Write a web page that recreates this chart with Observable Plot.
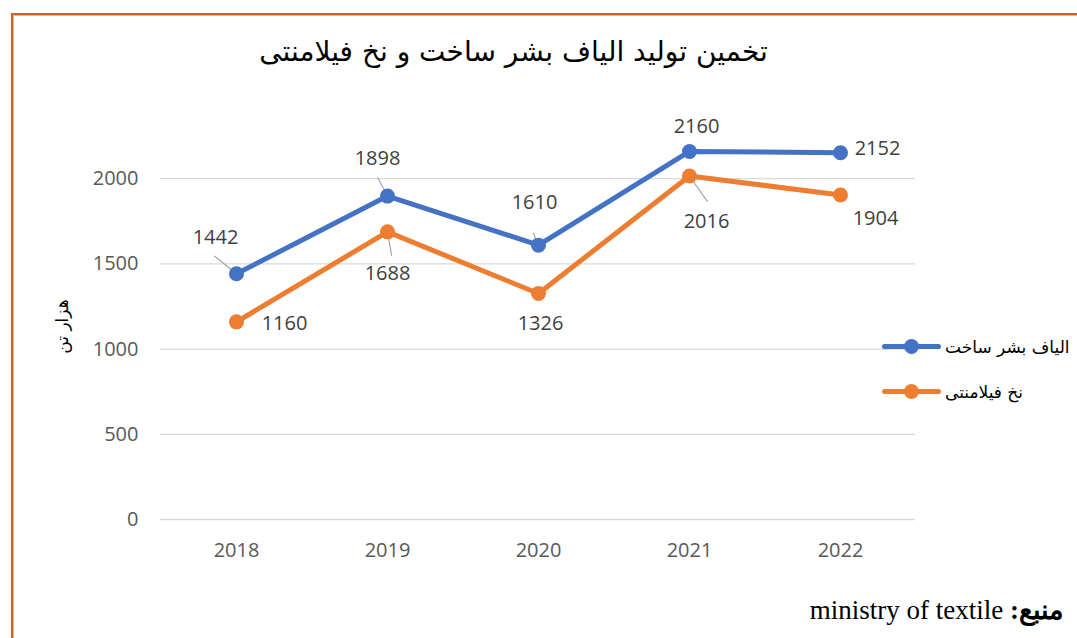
<!DOCTYPE html>
<html>
<head>
<meta charset="utf-8">
<script src="https://cdn.jsdelivr.net/npm/d3@7"></script>
<script src="https://cdn.jsdelivr.net/npm/@observablehq/plot@0.6"></script>
<style>
  html, body { margin: 0; padding: 0; background: #fff; }
  #root { position: relative; width: 1077px; height: 638px; overflow: hidden; background: #fff; }
  #frame { position: absolute; left: 11px; top: 13px; width: 1200px; height: 800px;
           border-left: 2px solid #C5652B; border-top: 2px solid #C5652B;
           box-shadow: inset 1px 1px 0 #F0B48C; }
  #title { position: absolute; left: 0; width: 1027px; top: 35px; text-align: center;
           font-family: "DejaVu Sans", sans-serif; font-size: 28px; color: #000; direction: rtl; }
  #chart { position: absolute; left: 0; top: 88px; }
  #legend { position: absolute; left: 882px; top: 334px; font-family: "DejaVu Sans", sans-serif;
            font-size: 17px; color: #000; }
  .item { position: relative; height: 26px; margin-bottom: 19px; }
  .swatch { position: absolute; left: 0; top: 10px; width: 59px; height: 5px; border-radius: 3px; }
  .swatch i { position: absolute; left: 22px; top: -5px; width: 15px; height: 15px; border-radius: 50%; background: inherit; }
  .label { position: absolute; left: 63px; top: 0; white-space: nowrap; direction: rtl; line-height: 26px; }
  #caption { position: absolute; right: 14px; top: 594px; font-family: "Liberation Serif", "DejaVu Serif", serif;
             font-size: 27px; color: #000; direction: rtl; white-space: nowrap; }
</style>
</head>
<body>
<div id="root">
  <div id="frame"></div>
  <div id="title"></div>
  <div id="chart"></div>
  <div id="legend"></div>
  <div id="caption"></div>
</div>
<script>
// ---- data ----
const chartTitle = "تخمین تولید الیاف بشر ساخت و نخ فیلامنتی";
const yAxisLabel = "هزار تن";
const sourceLabel = "منبع:";
const sourceText = "ministry of textile";
const years = ["2018", "2019", "2020", "2021", "2022"];
const seriesNames = ["الیاف بشر ساخت", "نخ فیلامنتی"];
const fibreValues = [1442, 1898, 1610, 2160, 2152];
const filamentValues = [1160, 1688, 1326, 2016, 1904];
const yTicks = [0, 500, 1000, 1500, 2000];

// ---- styling / layout ----
const colors = ["#4472C4", "#ED7D31"];
const numFont = "'Open Sans', 'Segoe UI', sans-serif";
// label offsets in pixels [dx, dy] per point
const labelOffsets = [
  [[-21, -36], [-10, -37], [-4, -43], [7, -25], [37, -4]],
  [[48, 2], [0, 42], [2, 30], [17, 46], [35, 24]]
];
// leader lines: [series, index, length(px), angle(deg)]
const leaders = [
  [0, 0, 28, -51], [0, 1, 21, -28], [0, 2, 13, -23],
  [1, 1, 24, 170], [1, 3, 31, 145]
];

const seriesValues = [fibreValues, filamentValues];
const data = seriesNames.flatMap((s, si) =>
  years.map((yr, i) => ({series: s, si, i, year: yr, value: seriesValues[si][i]})));

document.getElementById("title").textContent = chartTitle;
document.getElementById("caption").innerHTML = "<b>" + sourceLabel + "</b> " + sourceText;

const leaderRows = leaders.map(([si, i, len, ang]) => ({year: years[i], value: seriesValues[si][i], len, ang}));

const labelMarks = data.map(d => Plot.text([d], {
  x: "year", y: "value", text: d => String(d.value),
  dx: labelOffsets[d.si][d.i][0], dy: labelOffsets[d.si][d.i][1],
  fill: "#404040", fontSize: 20, fontFamily: numFont
}));

const chart = Plot.plot({
  width: 930,
  height: 481,
  marginLeft: 160,
  marginRight: 15,
  marginTop: 5,
  marginBottom: 50,
  style: {background: "transparent", overflow: "visible"},
  x: {type: "point", domain: years, padding: 0.5, label: null},
  y: {domain: [0, 2500], label: null},
  length: {type: "identity"},
  color: {domain: seriesNames, range: colors},
  marks: [
    Plot.gridY(yTicks, {stroke: "#d9d9d9", strokeOpacity: 1, strokeWidth: 1.3}),
    Plot.axisY(yTicks, {tickSize: 0, tickPadding: 22, fill: "#595959", fontSize: 20, fontFamily: numFont,
      tickFormat: d => String(d), label: null}),
    Plot.axisX(years, {tickSize: 0, tickPadding: 23, fill: "#595959", fontSize: 20, fontFamily: numFont, label: null}),
    Plot.text([yAxisLabel], {frameAnchor: "left", textAnchor: "middle", rotate: -90, dx: -98, dy: 20,
      fontSize: 17, fill: "#000", fontFamily: "'DejaVu Sans', sans-serif"}),
    Plot.vector(leaderRows, {x: "year", y: "value", length: "len", rotate: "ang", anchor: "start",
      stroke: "#a6a6a6", strokeWidth: 1.2,
      shape: {draw(context, l) { context.moveTo(0, 0); context.lineTo(0, -l); }}}),
    Plot.line(data, {x: "year", y: "value", z: "series", stroke: "series", strokeWidth: 5, strokeLinejoin: "round", strokeLinecap: "round"}),
    Plot.dot(data, {x: "year", y: "value", fill: "series", r: 7.5}),
    ...labelMarks
  ]
});
document.getElementById("chart").appendChild(chart);

// legend
const legend = document.getElementById("legend");
seriesNames.forEach((name, i) => {
  const item = document.createElement("div");
  item.className = "item";
  item.innerHTML = `<div class="swatch" style="background:${colors[i]}"><i></i></div><div class="label"></div>`;
  item.querySelector(".label").textContent = name;
  legend.appendChild(item);
});
</script>
</body>
</html>
